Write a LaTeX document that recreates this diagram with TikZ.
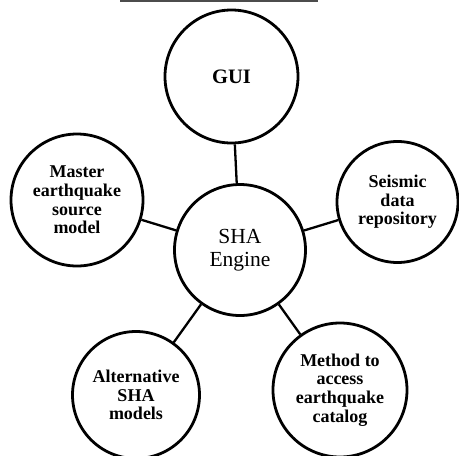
\documentclass[tikz,border=0pt]{standalone}
\usepackage{fontspec}
\setmainfont{Liberation Serif}
\begin{document}
\begin{tikzpicture}[x=1pt,y=-1pt,
		part/.style={draw,circle,line width=2.8pt,inner sep=0pt,align=center,
			font=\bfseries\fontsize{18}{18.6}\selectfont},
		link/.style={line width=2.3pt}]
		\useasboundingbox (0,0) rectangle (459,456);
		% strip at the top edge
		\fill[black!70] (120,0) rectangle (318,2);
		% centre
		\node[part,minimum size=131pt,font=\fontsize{21.5}{22.5}\selectfont] (engine) at (240,250) {SHA\\Engine};
		% outer circles
		\node[part,minimum size=133pt,font=\bfseries\fontsize{20.5}{22}\selectfont] (gui) at (231.5,76.5) {GUI};
		\node[part,minimum size=132pt] (master) at (77,200) {Master\\earthquake\\source\\model};
		\node[part,minimum size=121pt] (seismic) at (397.5,202) {Seismic\\data\\repository};
		\node[part,minimum size=127pt] (alt) at (136,395) {Alternative\\SHA\\models};
		\node[part,minimum size=134pt] (method) at (340,390) {Method to\\access\\earthquake\\catalog};
		% spokes
		\draw[link] (engine) -- (gui);
		\draw[link] (engine) -- (master);
		\draw[link] (engine) -- (seismic);
		\draw[link] (engine) -- (alt);
		\draw[link] (engine) -- (method);
\end{tikzpicture}
\end{document}
